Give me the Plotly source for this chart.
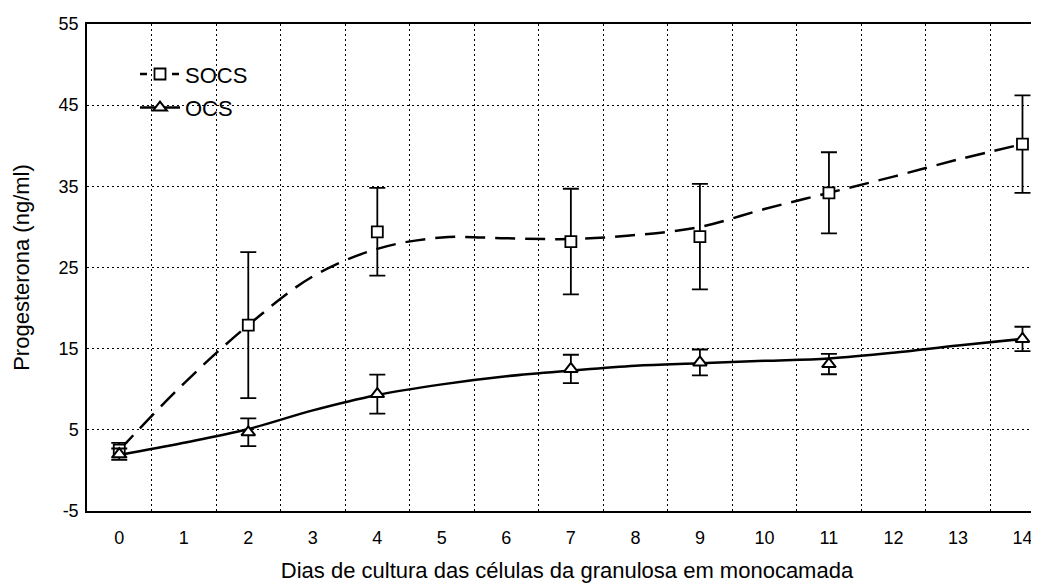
import plotly.graph_objects as go

days = [0, 2, 4, 7, 9, 11, 14]
socs_mean = [2.5, 17.9, 29.4, 28.2, 28.8, 34.2, 40.2]
socs_err = [0.9, 9.0, 5.4, 6.5, 6.5, 5.0, 6.0]
ocs_mean = [2.0, 4.7, 9.4, 12.5, 13.3, 13.1, 16.2]
ocs_err = [0.7, 1.7, 2.4, 1.75, 1.6, 1.25, 1.5]

# Smoothed fit curves (at each day)
fit_days = [0, 1, 2, 3, 4, 5, 6, 7, 8, 9, 10, 11, 12, 13, 14]
socs_fit = [2.5, 10.7, 17.9, 23.9, 27.3, 28.7, 28.6, 28.5, 29.0, 30.0, 32.2, 34.2, 36.2, 38.3, 40.2]
ocs_fit = [1.9, 3.4, 5.1, 7.4, 9.3, 10.6, 11.6, 12.3, 12.9, 13.2, 13.5, 13.8, 14.5, 15.4, 16.2]

x_ticks = list(range(0, 15))
y_ticks = [-5, 5, 15, 25, 35, 45, 55]

FONT = "Liberation Sans, Arial, sans-serif"
DASH = "20px,10px"

fig = go.Figure()

fig.add_trace(go.Scatter(x=fit_days, y=socs_fit, mode="lines", line_shape="spline",
                         line=dict(color="black", width=2.5, dash=DASH),
                         showlegend=False, hoverinfo="skip"))
fig.add_trace(go.Scatter(x=fit_days, y=ocs_fit, mode="lines", line_shape="spline",
                         line=dict(color="black", width=2.5),
                         showlegend=False, hoverinfo="skip"))

fig.add_trace(go.Scatter(x=days, y=socs_mean, mode="markers",
                         marker=dict(symbol="square", size=11, color="white",
                                     line=dict(color="black", width=1.8)),
                         error_y=dict(type="data", array=socs_err, color="black",
                                      thickness=1.8, width=8),
                         showlegend=False))
fig.add_trace(go.Scatter(x=days, y=ocs_mean, mode="markers",
                         marker=dict(symbol="triangle-up", size=12, color="white",
                                     line=dict(color="black", width=2)),
                         error_y=dict(type="data", array=ocs_err, color="black",
                                      thickness=1.8, width=8),
                         showlegend=False))

# Legend entries
fig.add_trace(go.Scatter(x=[None], y=[None], mode="lines+markers", name="SOCS",
                         legendgroup="a",
                         line=dict(color="black", width=2.5, dash="7px,9px"),
                         marker=dict(symbol="square", size=11, color="white",
                                     line=dict(color="black", width=1.8))))
fig.add_trace(go.Scatter(x=[None], y=[None], mode="lines+markers", name="OCS",
                         legendgroup="b",
                         line=dict(color="black", width=2.5),
                         marker=dict(symbol="triangle-up", size=12, color="white",
                                     line=dict(color="black", width=2))))

fig.update_layout(
    width=1039, height=584,
    margin=dict(l=79, r=0, t=16, b=81),
    paper_bgcolor="white", plot_bgcolor="white",
    font=dict(family=FONT, color="black", size=18),
    showlegend=True,
    legend=dict(x=0.05, y=0.94, xanchor="left", yanchor="top",
                bgcolor="rgba(255,255,255,0)", font=dict(size=22),
                tracegroupgap=2, itemwidth=40),
    xaxis=dict(range=[-0.5, 14.38], tickmode="array", tickvals=x_ticks,
               ticktext=[str(v) for v in x_ticks], showgrid=False, zeroline=False,
               showline=True, linecolor="black", linewidth=1.5, mirror=True,
               ticks="", ticklabelstandoff=10, automargin=False,
               tickfont=dict(size=18),
               title=dict(text="Dias de cultura das células da granulosa em monocamada",
                          font=dict(size=22), standoff=15),
               minor=dict(tick0=0.5, dtick=1, showgrid=True, gridcolor="black",
                          gridwidth=1, griddash="2px,3px", ticks="")),
    yaxis=dict(range=[-5, 55], tickmode="array", tickvals=y_ticks,
               ticktext=[str(v) for v in y_ticks], showgrid=True, gridcolor="black",
               gridwidth=1, griddash="2px,3px", zeroline=False,
               showline=True, linecolor="black", linewidth=1.5, automargin=False,
               ticks="", ticklabelstandoff=3, tickfont=dict(size=18),
               title=dict(text="Progesterona (ng/ml)", font=dict(size=22), standoff=23)),
)

fig.write_html("out.html")
